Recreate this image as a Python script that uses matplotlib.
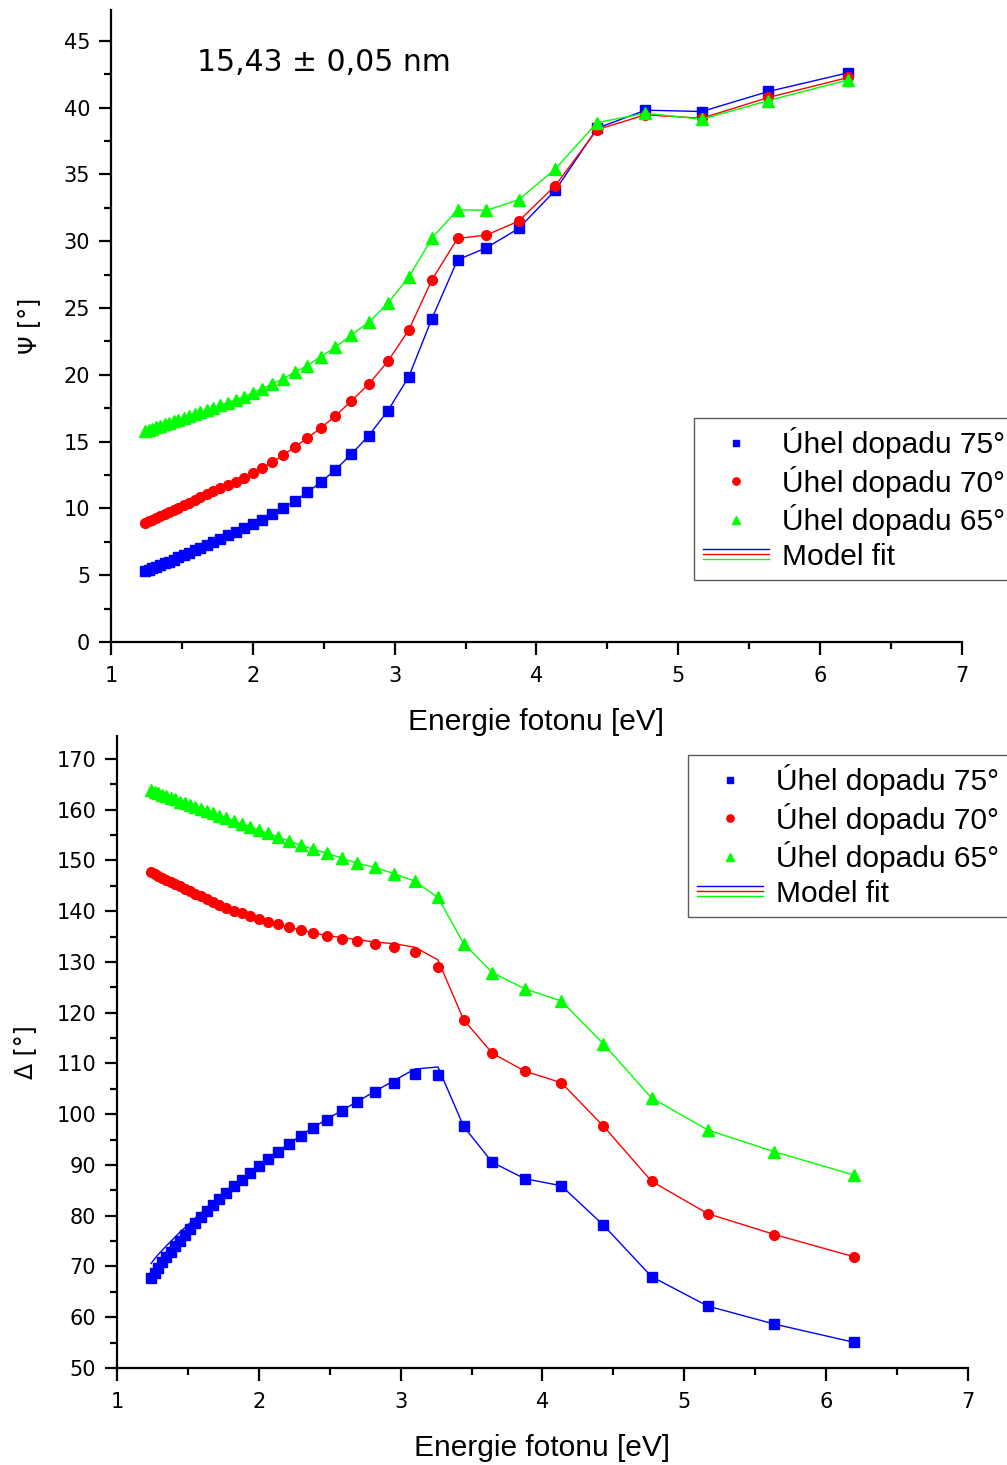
import matplotlib.pyplot as plt
from matplotlib.lines import Line2D
from matplotlib.legend_handler import HandlerBase
from matplotlib.ticker import MultipleLocator

# photon energy [eV] (measured points)
energy = [1.240, 1.265, 1.292, 1.319, 1.348, 1.378, 1.409, 1.442, 1.476, 1.512,
          1.550, 1.590, 1.631, 1.675, 1.722, 1.771, 1.823, 1.879, 1.937, 2.000,
          2.066, 2.138, 2.214, 2.296, 2.384, 2.480, 2.583, 2.695, 2.818, 2.952,
          3.100, 3.263, 3.444, 3.647, 3.875, 4.133, 4.428, 4.769, 5.166, 5.636,
          6.199]

psi75 = [5.3, 5.4, 5.5, 5.62, 5.75, 5.88, 6.02, 6.17, 6.33, 6.5,
         6.67, 6.86, 7.05, 7.26, 7.48, 7.72, 7.97, 8.23, 8.52, 8.83,
         9.15, 9.55, 10.02, 10.55, 11.2, 11.95, 12.9, 14.05, 15.45, 17.3,
         19.85, 24.2, 28.6, 29.5, 30.95, 33.8, 38.45, 39.8, 39.7, 41.2,
         42.6]
psi70 = [8.9, 9.02, 9.15, 9.28, 9.42, 9.57, 9.72, 9.88, 10.05, 10.23,
         10.42, 10.62, 10.82, 11.04, 11.27, 11.5, 11.74, 12.0, 12.3, 12.62,
         13.02, 13.47, 13.98, 14.6, 15.25, 16.02, 16.92, 18.04, 19.3, 21.0,
         23.35, 27.1, 30.2, 30.45, 31.5, 34.15, 38.35, 39.45, 39.2, 40.75,
         42.25]
psi65 = [15.8, 15.88, 15.97, 16.07, 16.17, 16.28, 16.39, 16.51, 16.63, 16.76,
         16.9, 17.05, 17.2, 17.36, 17.53, 17.71, 17.9, 18.11, 18.36, 18.65,
         18.96, 19.31, 19.69, 20.19, 20.68, 21.36, 22.06, 22.98, 23.93, 25.35,
         27.3, 30.22, 32.35, 32.3, 33.1, 35.4, 38.87, 39.57, 39.12, 40.52,
         42.07]

delta75 = [67.8, 68.8, 69.8, 70.8, 71.8, 72.9, 74.0, 75.1, 76.2, 77.4,
           78.6, 79.7, 80.9, 82.1, 83.3, 84.55, 85.8, 87.0, 88.4, 89.8,
           91.1, 92.6, 94.1, 95.7, 97.3, 98.9, 100.6, 102.4, 104.3, 106.2,
           107.9, 107.7, 97.6, 90.5, 87.3, 85.9, 78.2, 68.0, 62.2, 58.65,
           55.05]
delta70 = [147.8, 147.4, 147.0, 146.6, 146.2, 145.8, 145.3, 144.9, 144.4, 143.9,
           143.4, 142.9, 142.3, 141.8, 141.2, 140.7, 140.1, 139.6, 139.0, 138.45,
           137.9, 137.4, 136.8, 136.3, 135.6, 135.1, 134.6, 134.1, 133.5, 132.9,
           132.0, 129.0, 118.6, 112.0, 108.5, 106.2, 97.7, 86.8, 80.4, 76.3,
           71.9]
delta65 = [163.8, 163.5, 163.2, 162.9, 162.6, 162.3, 162.0, 161.6, 161.25, 160.9,
           160.5, 160.1, 159.7, 159.25, 158.8, 158.3, 157.75, 157.2, 156.6, 156.0,
           155.3, 154.6, 153.8, 153.0, 152.2, 151.4, 150.45, 149.45, 148.6, 147.4,
           145.9, 142.7, 133.6, 127.9, 124.7, 122.3, 113.9, 103.2, 96.9, 92.6,
           88.0]

# model fit curves (where they differ visibly from the data)
delta75_fit = [70.6, 71.5, 72.4, 73.2, 74.1, 74.9, 75.8, 76.7, 77.6, 78.5,
               79.5, 80.5, 81.6, 82.7, 83.8, 85.0, 86.2, 87.4, 88.6, 89.9,
               91.2, 92.7, 94.2, 95.8, 97.4, 99.0, 100.7, 102.5, 104.5, 106.6,
               108.9, 109.3, 97.6, 90.5, 87.3, 85.9, 78.2, 68.0, 62.2, 58.65,
               55.05]
delta70_fit = [147.8, 147.4, 147.0, 146.6, 146.2, 145.8, 145.3, 144.9, 144.4, 143.9,
               143.4, 142.9, 142.3, 141.8, 141.2, 140.7, 140.1, 139.6, 139.0, 138.45,
               137.9, 137.4, 136.8, 136.3, 135.7, 135.2, 134.8, 134.4, 133.9, 133.6,
               132.9, 130.4, 118.6, 112.0, 108.5, 106.2, 97.7, 86.8, 80.4, 76.3,
               71.9]
delta65_fit = delta65

labels = ['Úhel dopadu 75°', 'Úhel dopadu 70°', 'Úhel dopadu 65°']
colors = ['#0000ff', '#ff0000', '#00ff00']
markers = ['s', 'o', '^']
msizes = [6.5, 7, 8]


class StackedLines(HandlerBase):
    # three coloured lines stacked on top of each other
    def create_artists(self, legend, orig_handle, xdescent, ydescent,
                       width, height, fontsize, trans):
        arts = []
        for i, c in enumerate(colors):
            y = height / 2 + (1 - i) * 3.4 - ydescent
            ln = Line2D([-xdescent, width - xdescent], [y, y], color=c, lw=1.0)
            ln.set_transform(trans)
            arts.append(ln)
        return arts


class FitKey:
    pass


def style_axes(ax):
    ax.spines['top'].set_visible(False)
    ax.spines['right'].set_visible(False)
    ax.spines['left'].set_linewidth(1.6)
    ax.spines['bottom'].set_linewidth(1.6)
    ax.set_xlim(1, 7)
    ax.xaxis.set_major_locator(MultipleLocator(1))
    ax.xaxis.set_minor_locator(MultipleLocator(0.5))
    ax.tick_params(which='major', length=9, width=1.6, labelsize=15,
                   direction='out', pad=6)
    ax.tick_params(which='minor', length=5, width=1.6, direction='out')
    ax.tick_params(axis='x', pad=8)
    ax.set_xlabel('Energie fotonu [eV]', fontsize=21.5, family='Liberation Sans',
                  labelpad=16)


def add_legend(ax, fig, anchor):
    handles = [Line2D([], [], ls='none', marker=m, color=c, ms=s * 0.75)
               for m, c, s in zip(markers, colors, msizes)]
    handles.append(FitKey())
    leg = fig.legend(handles, labels + ['Model fit'], loc='upper left',
                     bbox_to_anchor=anchor, bbox_transform=fig.transFigure,
                     handler_map={FitKey: StackedLines()},
                     prop={'family': 'Liberation Sans', 'size': 21.5},
                     frameon=True, fancybox=False, borderpad=0.3,
                     labelspacing=0.22, handlelength=2.2, handletextpad=0.45,
                     borderaxespad=0)
    leg.get_frame().set_edgecolor('#333333')
    leg.get_frame().set_linewidth(1.0)


fig = plt.figure(figsize=(10.07, 14.65), dpi=100)

# --- Psi panel ---
ax1 = fig.add_axes([0.1102, 0.5618, 0.845, 0.4314])
for y, m, c, s, lab in zip([psi75, psi70, psi65], markers, colors, msizes, labels):
    ax1.plot(energy, y, '-', color=c, lw=1.0)
    ax1.plot(energy, y, ls='none', marker=m, color=c, ms=s, label=lab)
style_axes(ax1)
ax1.set_ylim(0, 47.3)
ax1.yaxis.set_major_locator(MultipleLocator(5))
ax1.yaxis.set_minor_locator(MultipleLocator(2.5))
ax1.set_ylabel('Ψ [°]', fontsize=17, labelpad=16)
ax1.text(1.61, 43.4, '15,43 ± 0,05 nm', fontsize=21.5, va='center', ha='left')
add_legend(ax1, fig, (694 / 1007, 1 - 418 / 1465))

# --- Delta panel ---
ax2 = fig.add_axes([0.1162, 0.0662, 0.845, 0.4314])
for y, yf, m, c, s, lab in zip([delta75, delta70, delta65],
                               [delta75_fit, delta70_fit, delta65_fit],
                               markers, colors, msizes, labels):
    ax2.plot(energy, yf, '-', color=c, lw=1.0)
    ax2.plot(energy, y, ls='none', marker=m, color=c, ms=s, label=lab)
style_axes(ax2)
ax2.set_ylim(50, 174.5)
ax2.yaxis.set_major_locator(MultipleLocator(10))
ax2.yaxis.set_minor_locator(MultipleLocator(5))
ax2.set_ylabel('Δ [°]', fontsize=17, labelpad=14)
add_legend(ax2, fig, (688 / 1007, 1 - 755 / 1465))

fig.savefig('out.png', dpi=100)
